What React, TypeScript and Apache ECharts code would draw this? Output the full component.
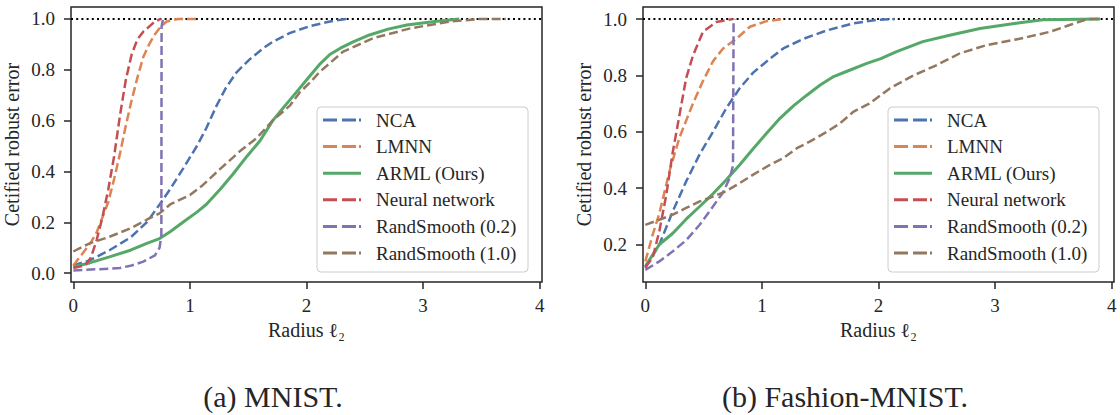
import React, { useEffect, useRef } from "react";
import * as echarts from "echarts";

// ---------- data (radius, certified robust error) ----------
const seriesNames = ["NCA", "LMNN", "ARML (Ours)", "Neural network", "RandSmooth (0.2)", "RandSmooth (1.0)"];
const seriesColors = ["#4C72B0", "#DD8452", "#55A868", "#C44E52", "#8172B3", "#937860"];
const xTicks = [0, 1, 2, 3, 4];
const yTicksMnist = [0, 0.2, 0.4, 0.6, 0.8, 1.0];
const yTicksFashion = [0.2, 0.4, 0.6, 0.8, 1.0];
const captions = ["(a) MNIST.", "(b) Fashion-MNIST."];

const mnistNCA = [[0,0.03],[0.14,0.05],[0.31,0.09],[0.49,0.14],[0.63,0.2],[0.74,0.27],[0.83,0.33],[0.94,0.41],[1.06,0.5],[1.14,0.57],[1.23,0.66],[1.31,0.73],[1.4,0.79],[1.51,0.84],[1.63,0.885],[1.71,0.91],[1.86,0.945],[2.03,0.972],[2.2,0.99],[2.34,1.0]];
const mnistLMNN = [[0,0.03],[0.05,0.06],[0.1,0.09],[0.15,0.12],[0.2,0.16],[0.25,0.22],[0.3,0.28],[0.35,0.37],[0.4,0.47],[0.45,0.58],[0.5,0.68],[0.55,0.77],[0.6,0.85],[0.65,0.9],[0.7,0.94],[0.75,0.97],[0.8,0.99],[0.9,1.0],[1.06,1.0]];
const mnistARML = [[0,0.025],[0.14,0.04],[0.31,0.064],[0.49,0.09],[0.63,0.117],[0.74,0.136],[0.83,0.163],[0.94,0.2],[1.06,0.24],[1.14,0.27],[1.26,0.33],[1.37,0.39],[1.49,0.46],[1.6,0.52],[1.71,0.6],[1.8,0.65],[1.91,0.71],[2.0,0.76],[2.11,0.82],[2.2,0.86],[2.29,0.885],[2.4,0.91],[2.54,0.937],[2.7,0.96],[2.86,0.976],[3.1,0.99],[3.31,1.0]];
const mnistNN = [[0,0.02],[0.1,0.03],[0.15,0.06],[0.2,0.13],[0.25,0.22],[0.3,0.33],[0.35,0.46],[0.4,0.62],[0.45,0.76],[0.5,0.86],[0.55,0.92],[0.6,0.95],[0.65,0.97],[0.7,0.99],[0.75,1.0]];
const mnistRS02 = [[0,0.01],[0.2,0.015],[0.4,0.02],[0.5,0.03],[0.6,0.045],[0.7,0.07],[0.74,0.1],[0.755,0.15],[0.757,0.97],[0.77,1.0]];
const mnistRS10 = [[0,0.085],[0.14,0.117],[0.31,0.143],[0.49,0.176],[0.63,0.21],[0.74,0.235],[0.83,0.27],[1.0,0.307],[1.11,0.346],[1.26,0.41],[1.43,0.48],[1.57,0.53],[1.71,0.6],[1.86,0.66],[1.94,0.71],[2.03,0.75],[2.11,0.79],[2.31,0.87],[2.57,0.924],[2.89,0.963],[3.23,0.99],[3.49,1.0],[3.71,1.0]];

const fashionNCA = [[0,0.117],[0.12,0.2],[0.236,0.318],[0.35,0.424],[0.466,0.52],[0.58,0.6],[0.695,0.684],[0.81,0.755],[0.925,0.81],[1.07,0.86],[1.184,0.896],[1.356,0.93],[1.557,0.96],[1.787,0.985],[2.0,0.998],[2.14,1.0]];
const fashionLMNN = [[0,0.14],[0.063,0.235],[0.12,0.31],[0.207,0.46],[0.293,0.58],[0.408,0.7],[0.494,0.78],[0.58,0.85],[0.667,0.896],[0.78,0.93],[0.897,0.973],[1.04,0.993],[1.18,1.0]];
const fashionARML = [[0,0.123],[0.12,0.2],[0.236,0.24],[0.35,0.29],[0.466,0.335],[0.58,0.38],[0.695,0.43],[0.81,0.483],[0.925,0.54],[1.04,0.595],[1.155,0.648],[1.27,0.692],[1.385,0.73],[1.5,0.766],[1.615,0.796],[1.73,0.815],[1.9,0.843],[2.02,0.86],[2.15,0.884],[2.38,0.92],[2.61,0.943],[2.87,0.967],[3.18,0.985],[3.41,0.998],[3.9,1.0]];
const fashionNN = [[0,0.12],[0.063,0.153],[0.12,0.247],[0.18,0.377],[0.236,0.53],[0.293,0.66],[0.35,0.79],[0.408,0.87],[0.494,0.955],[0.61,0.99],[0.75,1.0]];
const fashionRS02 = [[0,0.11],[0.12,0.14],[0.236,0.176],[0.35,0.215],[0.466,0.27],[0.58,0.335],[0.667,0.385],[0.724,0.436],[0.752,0.48],[0.757,0.99],[0.77,1.0]];
const fashionRS10 = [[0,0.27],[0.12,0.288],[0.236,0.306],[0.35,0.33],[0.466,0.353],[0.58,0.37],[0.695,0.39],[0.81,0.418],[0.925,0.448],[1.07,0.483],[1.184,0.507],[1.3,0.542],[1.414,0.566],[1.557,0.6],[1.67,0.63],[1.787,0.672],[1.92,0.7],[2.1,0.755],[2.3,0.8],[2.5,0.837],[2.7,0.879],[2.93,0.908],[3.21,0.93],[3.47,0.955],[3.64,0.979],[3.79,1.0],[3.9,1.0]];

const mnistData = [mnistNCA, mnistLMNN, mnistARML, mnistNN, mnistRS02, mnistRS10];
const fashionData = [fashionNCA, fashionLMNN, fashionARML, fashionNN, fashionRS02, fashionRS10];
const refLine = [[-0.02, 1], [4.02, 1]];

const FONT = "Liberation Serif";
const INK = "#262626";
const DASH_ICON = "path://M0,0h14v3h-14z M19,0h14v3h-14z M36,0h2v3h-2z";
const SOLID_ICON = "path://M0,0h38v3h-38z";

function buildOption() {
  const grids = [
    { left: 71, top: 7, width: 471, height: 275 },
    { left: 643, top: 7, width: 471, height: 275 },
  ];
  const yRanges = [
    { min: -0.035, max: 1.047, ticks: yTicksMnist },
    { min: 0.067, max: 1.043, ticks: yTicksFashion },
  ];
  const series: any[] = [];
  [mnistData, fashionData].forEach((set, gi) => {
    series.push({
      type: "line", xAxisIndex: gi, yAxisIndex: gi, data: refLine, symbol: "none", silent: true,
      lineStyle: { color: "#000", width: 2, type: [2, 3.2] }, z: 1,
    });
    set.forEach((d, si) => {
      const solid = si === 2;
      series.push({
        type: "line", name: seriesNames[si], xAxisIndex: gi, yAxisIndex: gi, data: d,
        symbol: "none", showSymbol: false, z: 2 + si,
        lineStyle: { color: seriesColors[si], width: solid ? 3 : 2.5, type: solid ? "solid" : [9, 4] },
        itemStyle: { color: seriesColors[si] },
      });
    });
  });
  const legendData = seriesNames.map((n, i) => ({ name: n, icon: i === 2 ? SOLID_ICON : DASH_ICON }));
  return {
    animation: false,
    textStyle: { fontFamily: FONT },
    grid: grids.map((g) => ({ ...g, show: true, borderColor: INK, borderWidth: 1.5, backgroundColor: "transparent" })),
    xAxis: [0, 1].map((i) => ({
      type: "value", gridIndex: i, min: -0.02, max: 4.02,
      axisLine: { show: false, onZero: false },
      splitLine: { show: false },
      axisTick: { show: true, length: 7, lineStyle: { color: INK, width: 1.5 }, customValues: xTicks },
      axisLabel: { customValues: xTicks, margin: 14, fontFamily: FONT, fontSize: 19, color: INK, formatter: (v: number) => String(v) },
      name: "Radius ℓ₂", nameLocation: "middle", nameGap: 35,
      nameTextStyle: { fontFamily: FONT, fontSize: 20, color: INK },
    })),
    yAxis: [0, 1].map((i) => ({
      type: "value", gridIndex: i, min: yRanges[i].min, max: yRanges[i].max,
      axisLine: { show: false, onZero: false },
      splitLine: { show: false },
      axisTick: { show: true, length: 7, lineStyle: { color: INK, width: 1.5 }, customValues: yRanges[i].ticks },
      axisLabel: { customValues: yRanges[i].ticks, margin: 16, fontFamily: FONT, fontSize: 19, color: INK, formatter: (v: number) => v.toFixed(1) },
      name: "Cetified robust error", nameLocation: "middle", nameGap: 49, nameRotate: 90,
      nameTextStyle: { fontFamily: FONT, fontSize: 20, color: INK },
    })),
    legend: [317, 888].map((left) => ({
      left, top: 107, orient: "vertical", data: legendData,
      itemWidth: 38, itemHeight: 3, itemGap: 6.6,
      padding: [3, 5, 9, 6],
      backgroundColor: "rgba(255,255,255,0.8)", borderColor: "#cccccc", borderWidth: 1, borderRadius: 4,
      textStyle: { fontFamily: FONT, fontSize: 19, color: INK, lineHeight: 20, width: 147, padding: [0, 0, 0, 10] },
      selectedMode: false,
    })),
    graphic: [
      { type: "text", x: 273, y: 396, style: { text: captions[0], fontFamily: FONT, fontSize: 30, fill: INK, textAlign: "center", textVerticalAlign: "middle" } },
      { type: "text", x: 845, y: 396, style: { text: captions[1], fontFamily: FONT, fontSize: 30, fill: INK, textAlign: "center", textVerticalAlign: "middle" } },
    ],
    series,
  };
}

export default function App() {
  const ref = useRef<HTMLDivElement>(null);
  useEffect(() => {
    document.body.style.margin = "0";
    const chart = echarts.init(ref.current!, null, { renderer: "svg" });
    chart.setOption(buildOption() as any);
    return () => chart.dispose();
  }, []);
  return <div ref={ref} style={{ width: 1120, height: 415, background: "#fff" }} />;
}
